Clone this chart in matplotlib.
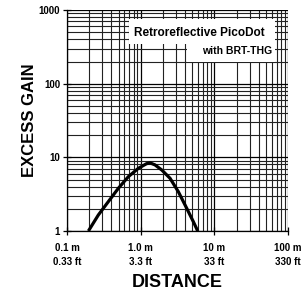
import matplotlib
matplotlib.use("Agg")
import matplotlib.pyplot as plt
from matplotlib.patches import Rectangle

# distance (m) vs excess gain
distance_m = [0.195, 0.266, 0.363, 0.497, 0.679, 0.927, 1.2, 1.34, 1.56,
              1.93, 2.5, 3.24, 4.21, 5.17, 5.93]
excess_gain = [1.0, 1.65, 2.5, 3.8, 5.46, 7.09, 8.2, 8.4, 7.9,
               6.73, 5.19, 3.41, 2.03, 1.34, 1.0]

x_ticks = [0.1, 1.0, 10, 100]
x_ticklabels = ["0.1 m\n0.33 ft", "1.0 m\n3.3 ft", "10 m\n33 ft", "100 m\n330 ft"]
y_ticks = [1, 10, 100, 1000]
y_ticklabels = ["1", "10", "100", "1000"]

title = "Retroreflective PicoDot"
subtitle = "with BRT-THG"

plt.rcParams['font.family'] = ['Liberation Sans Narrow', 'Liberation Sans', 'DejaVu Sans']

fig = plt.figure(figsize=(3.02, 2.95), dpi=100)
ax = fig.add_axes([0.222, 0.217, 0.732, 0.749])

ax.set_xscale('log')
ax.set_yscale('log')
ax.set_xlim(0.1, 100)
ax.set_ylim(1, 1000)

# dense log grid
ax.grid(True, which='major', color='black', linewidth=0.9)
ax.grid(True, which='minor', color='#222222', linewidth=0.8)
ax.set_axisbelow(True)

ax.plot(distance_m, excess_gain, color='black', linewidth=2.3, zorder=5,
        solid_capstyle='butt', solid_joinstyle='round')

ax.set_xticks(x_ticks)
ax.set_xticklabels(x_ticklabels, fontsize=7, fontweight='bold', linespacing=1.5)
ax.set_yticks(y_ticks)
ax.set_yticklabels(y_ticklabels, fontsize=7, fontweight='bold')
ax.tick_params(which='major', direction='inout', length=6, width=0.9, pad=2)
ax.tick_params(axis='x', which='major', pad=6)
ax.tick_params(which='minor', length=0)

for s in ['top', 'right']:
    ax.spines[s].set_visible(False)
for s in ['left', 'bottom']:
    ax.spines[s].set_linewidth(0.9)

ax.set_xlabel("DISTANCE", fontsize=13, fontweight='bold', labelpad=5)
ax.set_ylabel("EXCESS GAIN", fontsize=12, fontweight='bold', labelpad=1)

# white label box (two steps)
ax.add_patch(Rectangle((0.28, 0.846), 0.661, 0.113, transform=ax.transAxes,
                       facecolor='white', edgecolor='none', zorder=6))
ax.add_patch(Rectangle((0.543, 0.765), 0.398, 0.085, transform=ax.transAxes,
                       facecolor='white', edgecolor='none', zorder=6))
ax.text(0.597, 0.898, title, transform=ax.transAxes, ha='center', va='center',
        fontsize=8.5, fontweight='bold', zorder=7)
ax.text(0.928, 0.815, subtitle, transform=ax.transAxes, ha='right', va='center',
        fontsize=7.5, fontweight='bold', zorder=7)

fig.savefig("out.png", dpi=100)
